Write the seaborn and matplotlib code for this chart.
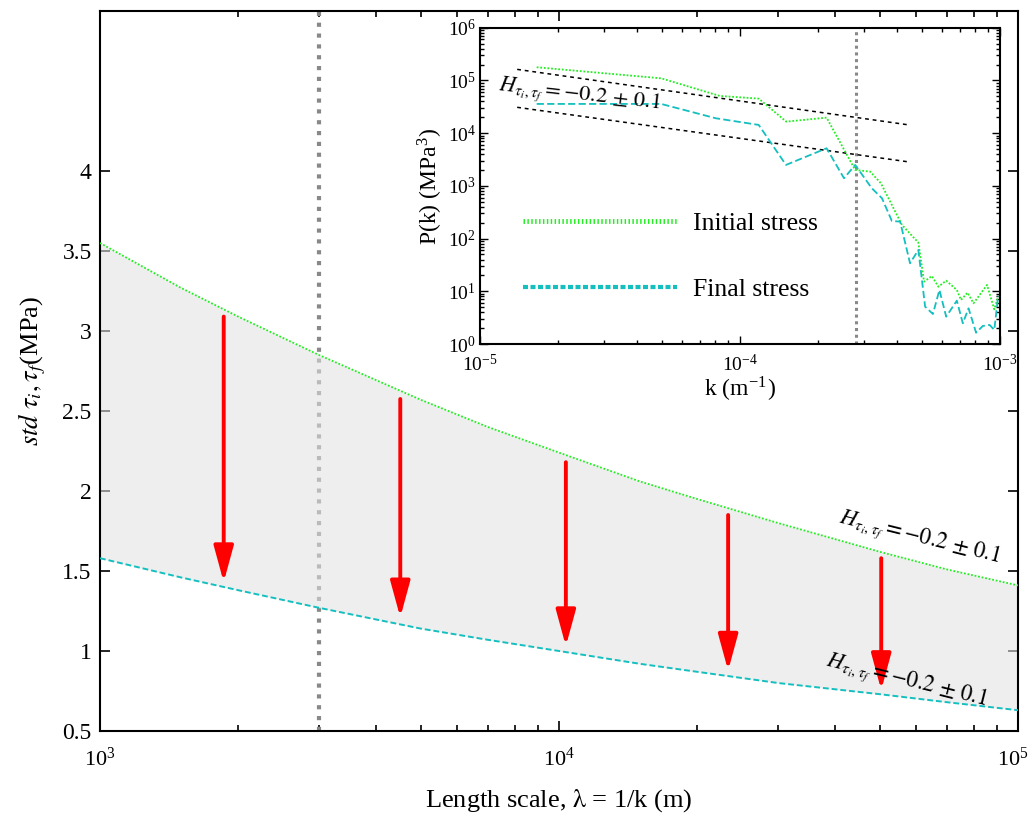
import numpy as np
import pandas as pd
import matplotlib
matplotlib.use("Agg")
import matplotlib.pyplot as plt
from matplotlib.lines import Line2D
from matplotlib.transforms import ScaledTranslation
from matplotlib.ticker import FixedLocator, FormatStrFormatter, LogLocator, NullFormatter
import seaborn as sns

# ---------------- data ----------------
# main panel: std of stress vs length scale
length_scale = [1000, 1500, 2000, 3000, 5000, 7000, 10000, 15000, 20000, 30000, 50000, 70000, 100000]
std_initial = [3.55, 3.27, 3.09, 2.85, 2.57, 2.40, 2.24, 2.06, 1.95, 1.80, 1.62, 1.51, 1.41]
std_final = [1.58, 1.46, 1.38, 1.27, 1.14, 1.07, 1.00, 0.92, 0.87, 0.80, 0.73, 0.68, 0.63]
cutoff_length = 3000

arrow_lambda = [1860, 4510, 10350, 23360, 50350]
arrow_top = [3.09, 2.575, 2.18, 1.85, 1.58]
arrow_tip = [1.43, 1.21, 1.03, 0.877, 0.756]

yticks_main = [0.5, 1, 1.5, 2, 2.5, 3, 3.5, 4]
xticks_main = [1e3, 1e4, 1e5]

# inset: power spectra
k_initial = [1.652e-5, 4.977e-5, 8.356e-5, 1.180e-4, 1.507e-4, 2.153e-4, 2.773e-4, 3.170e-4,
             3.483e-4, 4.198e-4, 4.853e-4, 5.105e-4, 5.470e-4, 5.794e-4, 6.209e-4, 6.823e-4,
             7.079e-4, 7.499e-4, 7.907e-4, 8.913e-4, 9.506e-4, 9.840e-4]
p_initial = [1.778e5, 1.096e5, 5.08e4, 4.52e4, 1.652e4, 1.968e4, 2005, 1858,
             1119, 181.1, 83.8, 15.2, 19.5, 12.2, 15.9, 10.6,
             6.84, 9.42, 5.92, 13.2, 4.55, 7.91]
k_final = [1.652e-5, 4.977e-5, 8.072e-5, 1.180e-4, 1.503e-4, 2.153e-4, 2.512e-4, 2.773e-4,
           3.214e-4, 3.516e-4, 3.837e-4, 4.130e-4, 4.508e-4, 4.853e-4, 5.152e-4, 5.521e-4,
           5.848e-4, 6.209e-4, 6.823e-4, 7.194e-4, 7.568e-4, 8.091e-4, 8.590e-4, 9.120e-4,
           9.506e-4, 9.840e-4]
p_final = [3.58e4, 3.58e4, 1.914e4, 1.432e4, 2495, 5164, 1393, 2495,
           899.5, 582.1, 215.8, 209.4, 33.96, 60.8, 5.11, 3.71,
           10.6, 3.30, 6.64, 2.47, 4.75, 1.64, 2.20, 2.30,
           1.85, 8.15]
fit_k = [1.39e-5, 4.38e-4]
fit_upper = [1.62e5, 1.45e4]
fit_lower = [3.09e4, 2.88e3]
cutoff_k = 2.80e-4

series_labels = ["Initial stress", "Final stress"]
h_label = r"$H_{\tau_i,\tau_f} = -0.2\,\pm\,0.1$"

GREEN = "#22ee22"
CYAN = "#14bfbf"

# ---------------- style ----------------
sns.set_theme(style="ticks")
plt.rcParams["font.family"] = ["Liberation Serif", "DejaVu Serif"]
plt.rcParams["mathtext.fontset"] = "stix"
plt.rcParams["axes.linewidth"] = 1.5
plt.rcParams["text.color"] = "black"
plt.rcParams["axes.labelcolor"] = "black"
plt.rcParams["axes.edgecolor"] = "black"
plt.rcParams["xtick.color"] = "black"
plt.rcParams["ytick.color"] = "black"

fig = plt.figure(figsize=(10.30, 8.16), dpi=100)
W, H = 1030, 816
ax = fig.add_axes([100 / W, 1 - 731 / H, 918 / W, 720 / H])

# main panel
ax.axvline(cutoff_length, color="#888888", lw=3.0, linestyle=(0, (1, 1.6)), zorder=1)
ax.fill_between(length_scale, std_final, std_initial, color="#e2e2e2", alpha=0.56,
                lw=0, zorder=2)
sns.lineplot(x=length_scale, y=std_initial, ax=ax, color=GREEN, lw=1.3,
             linestyle=(0, (1, 1)), zorder=3)
sns.lineplot(x=length_scale, y=std_final, ax=ax, color=CYAN, lw=1.4,
             linestyle=(0, (3, 1.5)), zorder=3)

for xa, yt, yb in zip(arrow_lambda, arrow_top, arrow_tip):
    ax.annotate("", xy=(xa, yb), xytext=(xa, yt),
                arrowprops=dict(arrowstyle="-|>,head_length=2.2,head_width=0.6",
                                color="red", lw=2.8, shrinkA=0, shrinkB=0,
                                mutation_scale=10),
                zorder=4)

ax.set_xscale("log")
ax.set_xlim(1e3, 1e5)
ax.set_ylim(0.5, 5.0)
ax.xaxis.set_major_locator(FixedLocator(xticks_main))
ax.yaxis.set_major_locator(FixedLocator(yticks_main))
ax.yaxis.set_major_formatter(FormatStrFormatter("%g"))
ax.tick_params(which="both", direction="in", top=True, right=True, labelsize=17,
               width=1.2, colors="black")
ax.tick_params(axis="x", which="major", labelsize=16)
ax.tick_params(which="major", length=7)
ax.tick_params(which="minor", length=4)
ax.tick_params(axis="x", which="major", pad=12)
ax.tick_params(axis="y", which="major", pad=6)
ax.set_xlabel(r"Length scale, $\mathrm{\lambda}$ = 1/k (m)", fontsize=19, labelpad=12)
ax.set_ylabel(r"$std\ \tau_i,\tau_f$(MPa)", fontsize=19, labelpad=10)

ax.text(40550, 1.806, h_label, fontsize=16.3, rotation=-14, rotation_mode="anchor",
        ha="left", va="baseline", zorder=5)
ax.text(37970, 0.9125, h_label, fontsize=16.3, rotation=-14, rotation_mode="anchor",
        ha="left", va="baseline", zorder=5)

# inset
axi = fig.add_axes([480 / W, 1 - 344 / H, 520 / W, 316.3 / H])
axi.set_facecolor("white")
axi.axvline(cutoff_k, color="#888888", lw=2.2, linestyle=(0, (1, 1.2)), zorder=1)
sns.lineplot(x=fit_k, y=fit_upper, ax=axi, color="black", lw=1.1,
             linestyle=(0, (2.5, 2.5)), zorder=2)
sns.lineplot(x=fit_k, y=fit_lower, ax=axi, color="black", lw=1.1,
             linestyle=(0, (2.5, 2.5)), zorder=2)
sns.lineplot(x=k_initial, y=p_initial, ax=axi, color=GREEN, lw=1.3,
             linestyle=(0, (1, 1)), zorder=3)
sns.lineplot(x=k_final, y=p_final, ax=axi, color=CYAN, lw=1.3,
             linestyle=(0, (4, 1.8)), zorder=3)
axi.set_xscale("log")
axi.set_yscale("log")
axi.set_xlim(1e-5, 1e-3)
axi.set_ylim(1, 1e6)
axi.yaxis.set_major_locator(LogLocator(base=10, numticks=10))
axi.yaxis.set_minor_locator(LogLocator(base=10, subs=np.arange(2, 10), numticks=10))
axi.yaxis.set_minor_formatter(NullFormatter())
axi.tick_params(which="both", direction="in", top=True, right=True, labelsize=14,
                width=1.0, colors="black")
axi.tick_params(which="major", length=6)
axi.tick_params(which="minor", length=3)
axi.tick_params(axis="x", which="major", pad=7)
axi.tick_params(axis="y", which="major", pad=3)
axi.set_xlabel(r"k (m$^{\mathregular{-1}}$)", fontsize=17, labelpad=0)
axi.set_ylabel(r"P(k) (MPa$^{\mathregular{3}}$)", fontsize=17, labelpad=2)

axi.text(1.173e-5, 6.6e4, h_label, fontsize=16, rotation=-6.5, rotation_mode="anchor",
         ha="left", va="baseline", zorder=5)

handles = [Line2D([], [], color=GREEN, lw=3.5, linestyle=(0, (0.3, 0.5))),
           Line2D([], [], color=CYAN, lw=3.0, linestyle=(0, (1.2, 0.6)))]
axi.legend(handles, series_labels, loc="center left", bbox_to_anchor=(0.083, 0.277),
           frameon=False, fontsize=18.5, handlelength=6.0, handletextpad=0.6,
           labelspacing=1.7, borderpad=0, borderaxespad=0)

# keep the last main x tick label inside the figure
fig.canvas.draw()
last_tick = ax.xaxis.get_major_ticks()[-1]
last_tick.label1.set_transform(last_tick.label1.get_transform()
                               + ScaledTranslation(-5 / 100, 0, fig.dpi_scale_trans))

fig.savefig("out.png", dpi=100)
